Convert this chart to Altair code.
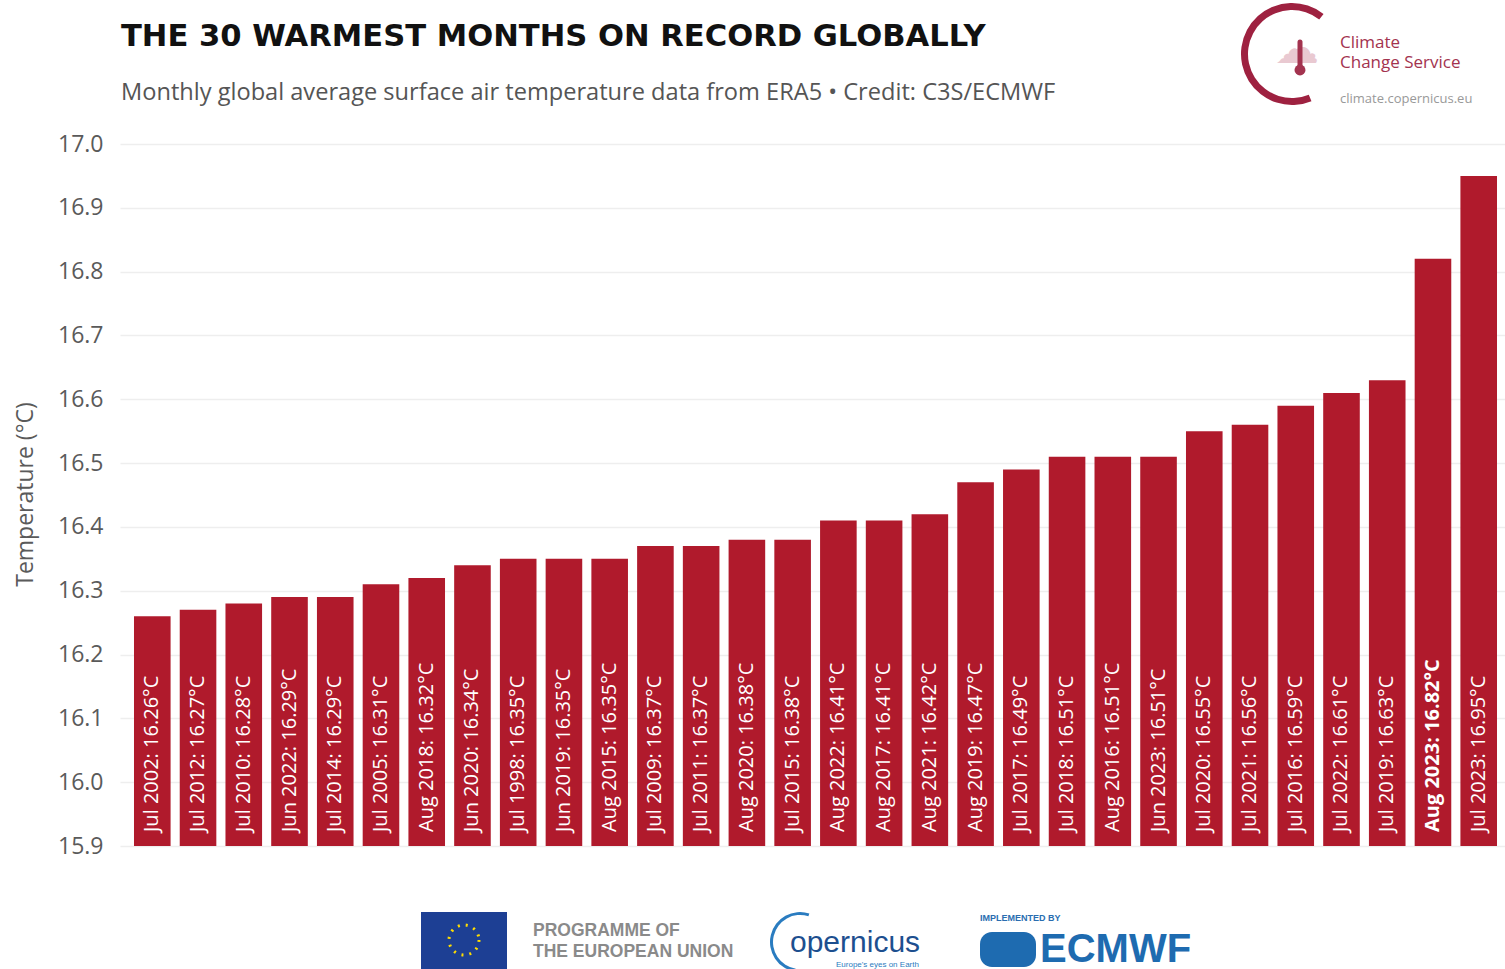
import altair as alt
import pandas as pd

months = ["Jul 2002", "Jul 2012", "Jul 2010", "Jun 2022", "Jul 2014", "Jul 2005",
          "Aug 2018", "Jun 2020", "Jul 1998", "Jun 2019", "Aug 2015", "Jul 2009",
          "Jul 2011", "Aug 2020", "Jul 2015", "Aug 2022", "Aug 2017", "Aug 2021",
          "Aug 2019", "Jul 2017", "Jul 2018", "Aug 2016", "Jun 2023", "Jul 2020",
          "Jul 2021", "Jul 2016", "Jul 2022", "Jul 2019", "Aug 2023", "Jul 2023"]
temps = [16.26, 16.27, 16.28, 16.29, 16.29, 16.31, 16.32, 16.34, 16.35, 16.35,
         16.35, 16.37, 16.37, 16.38, 16.38, 16.41, 16.41, 16.42, 16.47, 16.49,
         16.51, 16.51, 16.51, 16.55, 16.56, 16.59, 16.61, 16.63, 16.82, 16.95]
y_ticks = [15.9, 16.0, 16.1, 16.2, 16.3, 16.4, 16.5, 16.6, 16.7, 16.8, 16.9, 17.0]
highlight = "Aug 2023"

df = pd.DataFrame({"month": months, "temp": temps})
df["label"] = [f"{m}: {t:.2f}°C" for m, t in zip(months, temps)]

FONT = "Open Sans"
RED = "#b01a2c"
W, H = 1385, 702

xenc = alt.X("month:N", sort=months, axis=None,
             scale=alt.Scale(range=[0, 1391], paddingInner=0.2, paddingOuter=0.306))
yscale = alt.Scale(domain=[15.9, 17.0], zero=False, nice=False)

base = alt.Chart(df)

bars = base.mark_bar(color=RED).encode(
    x=xenc,
    y=alt.Y("temp:Q", scale=yscale,
            axis=alt.Axis(values=y_ticks, format=".1f", title="Temperature (°C)",
                          domain=False, ticks=False, labelFontSize=23,
                          labelColor="#5a5a5a", labelFont=FONT, labelPadding=17,
                          gridColor="#eeeeee", gridWidth=1.5,
                          titleFont=FONT, titleFontSize=23, titleColor="#5a5a5a",
                          titleFontWeight="normal", titleX=-95, titleY=H / 2 - 1,
                          titleAngle=270, titleAlign="center", titleBaseline="middle")),
    y2=alt.datum(15.9),
)

def bar_labels(weight, keep):
    return base.mark_text(angle=270, align="left", baseline="middle", dx=14,
                          color="white", font=FONT, fontSize=20, fontWeight=weight).encode(
        x=xenc, y=alt.datum(15.9, scale=yscale), text="label:N"
    ).transform_filter(keep)

labels = bar_labels("normal", alt.datum.month != highlight)
labels_hi = bar_labels("bold", alt.datum.month == highlight)

one = alt.Data(values=[{"a": 1}])

def txt(text, x, y, size, color, weight="normal", align="left", font=FONT):
    return alt.Chart(one).mark_text(align=align, baseline="middle", fontSize=size,
                                    color=color, fontWeight=weight, font=font).encode(
        x=alt.value(x - 120), y=alt.value(y - 144), text=alt.value(text))

title = txt("THE 30 WARMEST MONTHS ON RECORD GLOBALLY", 121, 37, 30.6, "#111111",
            weight="bold", font="DejaVu Sans")
subtitle = txt("Monthly global average surface air temperature data from ERA5  •  Credit: C3S/ECMWF",
               121, 93, 23.6, "#555555")

# top-right logo
LOGO = "#a3334f"
logo_arc = alt.Chart(one).mark_arc(color="#9e2140").encode(
    x=alt.value(1292 - 120), y=alt.value(54 - 144),
    theta=alt.value(2.75), theta2=alt.value(6.95),
    radius=alt.value(51), radius2=alt.value(44))
logo_t1 = txt("Climate", 1340, 43, 17, LOGO)
logo_t2 = txt("Change Service", 1340, 63, 17, LOGO)
logo_t3 = txt("climate.copernicus.eu", 1340, 99, 13, "#999999")
cloud = txt("☁", 1297, 50, 44, "#e9c9d1", align="center", font="DejaVu Sans")
thermo = alt.Chart(one).mark_rule(color=LOGO, strokeWidth=5, strokeCap="round").encode(
    x=alt.value(1300 - 120), y=alt.value(42 - 144), y2=alt.value(68 - 144))
bulb = alt.Chart(one).mark_point(filled=True, color=LOGO, size=120, opacity=1).encode(
    x=alt.value(1300 - 120), y=alt.value(70 - 144))

# bottom logos
eu_flag = alt.Chart(one).mark_rect(color="#1d3f94").encode(
    x=alt.value(421 - 120), x2=alt.value(507 - 120),
    y=alt.value(912 - 144), y2=alt.value(980 - 144))
eu_stars = alt.Chart(one).mark_point(shape="circle", size=900, color="#ffdd00",
                                     strokeWidth=3, strokeDash=[2, 6], opacity=1).encode(
    x=alt.value(464 - 120), y=alt.value(940 - 144))
prog1 = txt("PROGRAMME OF", 533, 931, 17.5, "#8a8a8a", weight="bold", font="Liberation Sans")
prog2 = txt("THE EUROPEAN UNION", 533, 952, 17.5, "#8a8a8a", weight="bold", font="Liberation Sans")
cop_arc = alt.Chart(one).mark_arc(color="#2a7cc0").encode(
    x=alt.value(800 - 120), y=alt.value(942 - 144),
    theta=alt.value(3.3), theta2=alt.value(6.6),
    radius=alt.value(30), radius2=alt.value(27))
cop = txt("opernicus", 790, 943, 30, "#1d4f8f", font="Liberation Sans")
cop_sub = txt("Europe's eyes on Earth", 836, 965, 8, "#2a7cc0", font="Liberation Sans")
impl = txt("IMPLEMENTED BY", 980, 918, 9, "#2a6db0", weight="bold", font="Liberation Sans")
ecm_icon = alt.Chart(one).mark_rect(color="#1e6bb0", cornerRadius=12).encode(
    x=alt.value(980 - 120), x2=alt.value(1036 - 120),
    y=alt.value(932 - 144), y2=alt.value(967 - 144))
ecm = txt("ECMWF", 1040, 950, 40, "#1e6bb0", weight="bold", font="Liberation Sans")

chart = alt.layer(
    bars, labels, labels_hi, title, subtitle,
    logo_arc, cloud, logo_t1, logo_t2, logo_t3, thermo, bulb,
    eu_flag, eu_stars, prog1, prog2, cop_arc, cop, cop_sub, impl, ecm_icon, ecm,
).properties(
    width=W, height=H,
    background="white",
    autosize=alt.AutoSizeParams(type="none"),
    padding={"left": 120, "top": 144, "right": 0, "bottom": 123},
).configure_view(stroke=None).configure_axis(domain=False)

chart.save("out.html", embed_options={"renderer": "svg", "actions": False})
